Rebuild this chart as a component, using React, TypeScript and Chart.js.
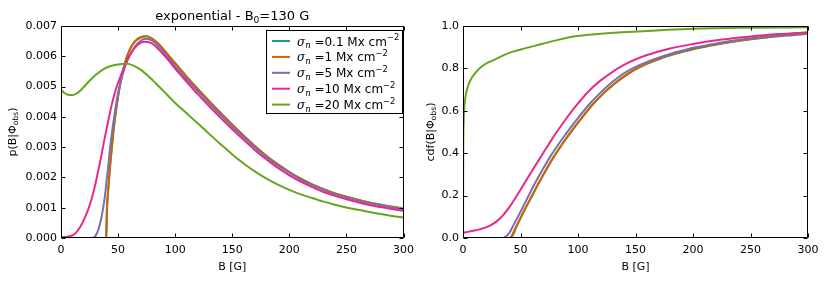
import React, { useEffect, useRef } from "react";
import { Chart, registerables } from "chart.js";
Chart.register(...registerables);

const FONT = '"DejaVu Sans", sans-serif';

const SIGMA_LABELS = ["0.1", "1", "5", "10", "20"];
const COLORS = ["#1b9e77", "#d95f02", "#7570b3", "#e7298a", "#66a61e"];

const X_TICKS = [0, 50, 100, 150, 200, 250, 300];
const PDF_TICKS = [0, 0.001, 0.002, 0.003, 0.004, 0.005, 0.006, 0.007];
const CDF_TICKS = [0, 0.2, 0.4, 0.6, 0.8, 1.0];

// ---- p(B|Phi_obs), values in units of 1e-3 ----
const TAIL_B = [110, 120, 130, 140, 150, 160, 170, 180, 190, 200, 210, 220, 230, 240, 250, 260, 270, 280, 290, 300];

const PDF_B_01 = [0, 39.9, 40.3, 41, 42, 43, 45, 47, 50, 53, 56, 60, 65, 70, 75, 80, 85, 90, 95, 100, ...TAIL_B];
const PDF_01 = [0, 0, 0.9, 1.4, 1.9, 2.35, 3.15, 3.85, 4.68, 5.3, 5.78, 6.2, 6.5, 6.63, 6.66, 6.58, 6.42, 6.22, 5.99, 5.77,
  5.33, 4.91, 4.51, 4.12, 3.74, 3.38, 3.03, 2.71, 2.43, 2.18, 1.96, 1.77, 1.61, 1.47, 1.36, 1.26, 1.17, 1.1, 1.03, 0.97];

const PDF_B_1 = [0, 39.3, 40, 41, 42, 43, 45, 47, 50, 53, 56, 60, 65, 70, 75, 80, 85, 90, 95, 100, ...TAIL_B];
const PDF_1 = [0, 0, 0.8, 1.45, 1.9, 2.4, 3.2, 3.9, 4.68, 5.3, 5.78, 6.2, 6.5, 6.63, 6.66, 6.58, 6.42, 6.22, 5.99, 5.77,
  5.33, 4.91, 4.51, 4.12, 3.74, 3.38, 3.03, 2.71, 2.43, 2.18, 1.96, 1.77, 1.61, 1.47, 1.36, 1.26, 1.17, 1.1, 1.03, 0.97];

const PDF_B_5 = [0, 27, 30, 32.5, 35, 38, 41, 44, 47, 50, 54, 58, 62, 66, 70, 74, 80, 85, 90, 95, 100, ...TAIL_B];
const PDF_5 = [0, 0, 0.06, 0.25, 0.6, 1.25, 2.25, 3.3, 4.1, 4.8, 5.4, 5.85, 6.15, 6.38, 6.52, 6.58, 6.52, 6.35, 6.13, 5.91, 5.67,
  5.25, 4.84, 4.44, 4.06, 3.68, 3.33, 2.98, 2.67, 2.39, 2.15, 1.93, 1.74, 1.59, 1.45, 1.34, 1.24, 1.15, 1.08, 1.01, 0.955];

const PDF_B_10 = [0, 5, 10, 13, 17, 21, 25, 29, 32.5, 35, 38, 41, 44, 48, 53, 58, 64, 70, 74, 80, 85, 90, 95, 100, ...TAIL_B];
const PDF_10 = [0.03, 0.04, 0.09, 0.17, 0.38, 0.68, 1.07, 1.6, 2.2, 2.65, 3.25, 3.8, 4.33, 4.9, 5.42, 5.87, 6.25, 6.45, 6.48, 6.42, 6.25, 6.05, 5.83, 5.59,
  5.16, 4.74, 4.34, 3.96, 3.59, 3.24, 2.9, 2.59, 2.31, 2.07, 1.86, 1.68, 1.52, 1.39, 1.28, 1.18, 1.09, 1.02, 0.955, 0.897];

const PDF_B_20 = [0, 3, 6, 10, 14, 18, 24, 30, 35, 40, 47, 53, 58, 63, 70, 80, 90, 100, ...TAIL_B];
const PDF_20 = [4.9, 4.79, 4.73, 4.72, 4.78, 4.91, 5.15, 5.37, 5.52, 5.63, 5.71, 5.745, 5.75, 5.7, 5.55, 5.22, 4.84, 4.46,
  4.12, 3.78, 3.43, 3.09, 2.76, 2.46, 2.19, 1.96, 1.76, 1.59, 1.44, 1.32, 1.2, 1.1, 1.01, 0.93, 0.86, 0.79, 0.73, 0.68];

// ---- cdf(B|Phi_obs) ----
const CDF_B_01 = [0, 40.6, 42.5, 44.5, 47, 50, 54, 60, 66, 72, 78, 84, 90, 96, 103, 113, 123, 133, 143, 152, 162, 172, 182, 192, 202, 222, 242, 262, 282, 300];
const CDF_01 = [0, 0, 0.006, 0.027, 0.06, 0.093, 0.136, 0.198, 0.26, 0.318, 0.374, 0.424, 0.471, 0.515, 0.564, 0.63, 0.686, 0.733, 0.772, 0.801, 0.826, 0.847, 0.864, 0.879, 0.893, 0.914, 0.931, 0.944, 0.955, 0.963];

const CDF_B_1 = [0, 40, 42, 44, 47, 50, 54, 60, 66, 72, 78, 84, 90, 96, 103, 113, 123, 133, 143, 152, 162, 172, 182, 192, 202, 222, 242, 262, 282, 300];
const CDF_1 = [0, 0, 0.007, 0.028, 0.062, 0.095, 0.138, 0.2, 0.262, 0.32, 0.376, 0.426, 0.473, 0.517, 0.566, 0.632, 0.688, 0.735, 0.774, 0.803, 0.828, 0.849, 0.866, 0.881, 0.895, 0.916, 0.933, 0.946, 0.957, 0.965];

const CDF_B_5 = [0, 34, 36, 40, 44, 48, 52, 58, 64, 70, 76, 82, 88, 94, 100, 110, 120, 130, 140, 150, 160, 170, 180, 190, 200, 220, 240, 260, 280, 300];
const CDF_5 = [0, 0, 0.003, 0.022, 0.062, 0.103, 0.145, 0.21, 0.272, 0.33, 0.385, 0.434, 0.48, 0.524, 0.566, 0.632, 0.688, 0.737, 0.777, 0.807, 0.831, 0.851, 0.868, 0.883, 0.897, 0.918, 0.935, 0.948, 0.959, 0.967];

const CDF_B_10 = [0, 5, 10, 15, 20, 25, 30, 35, 40, 45, 50, 55, 60, 65, 70, 75, 80, 90, 100, 113, 125, 142, 160, 180, 200, 225, 250, 275, 300];
const CDF_10 = [0.025, 0.03, 0.035, 0.042, 0.05, 0.063, 0.082, 0.108, 0.143, 0.184, 0.228, 0.272, 0.316, 0.36, 0.403, 0.446, 0.488, 0.565, 0.635, 0.712, 0.765, 0.822, 0.863, 0.894, 0.915, 0.936, 0.951, 0.962, 0.97];

const CDF_B_20 = [0, 0.2, 0.6, 1.2, 2, 3, 4.6, 7, 10.4, 16, 22, 28, 39, 51, 65, 80, 96, 120, 148, 200, 250, 300];
const CDF_20 = [0, 0.4, 0.55, 0.62, 0.66, 0.69, 0.72, 0.75, 0.777, 0.808, 0.828, 0.843, 0.871, 0.89, 0.91, 0.931, 0.95, 0.963, 0.973, 0.987, 0.992, 0.994];

const PDF_SCALE = 1e-3;

const PDF_SERIES = [
  [PDF_B_01, PDF_01],
  [PDF_B_1, PDF_1],
  [PDF_B_5, PDF_5],
  [PDF_B_10, PDF_10],
  [PDF_B_20, PDF_20],
];
const CDF_SERIES = [
  [CDF_B_01, CDF_01],
  [CDF_B_1, CDF_1],
  [CDF_B_5, CDF_5],
  [CDF_B_10, CDF_10],
  [CDF_B_20, CDF_20],
];

type Part = { t: string; s?: "sub" | "sup"; it?: boolean; serif?: boolean };

function fontOf(p: Part, size: number) {
  const sz = p.s ? size * 0.7 : size;
  return `${p.it ? "italic " : ""}${sz}px ${p.serif ? '"DejaVu Serif", serif' : FONT}`;
}

function drawRich(ctx: CanvasRenderingContext2D, parts: Part[], x: number, y: number, size: number, align: "left" | "center") {
  ctx.save();
  ctx.textBaseline = "alphabetic";
  ctx.textAlign = "left";
  ctx.fillStyle = "#000";
  let w = 0;
  const widths = parts.map((p) => {
    ctx.font = fontOf(p, size);
    const m = ctx.measureText(p.t).width;
    w += m;
    return m;
  });
  let cx = align === "center" ? x - w / 2 : x;
  parts.forEach((p, i) => {
    ctx.font = fontOf(p, size);
    const dy = p.s === "sub" ? size * 0.22 : p.s === "sup" ? -size * 0.42 : 0;
    ctx.fillText(p.t, cx, y + dy);
    cx += widths[i];
  });
  ctx.restore();
}

function drawFrame(chart: any) {
  const { ctx, chartArea: a, scales } = chart;
  ctx.save();
  ctx.strokeStyle = "#000";
  ctx.lineWidth = 1;
  const L = Math.round(a.left) + 0.5;
  const R = Math.round(a.right) - 0.5;
  const T = Math.round(a.top) + 0.5;
  const B = Math.round(a.bottom) - 0.5;
  ctx.beginPath();
  ctx.rect(L, T, R - L, B - T);
  const tl = 4;
  scales.x.ticks.forEach((t: any) => {
    const px = Math.round(scales.x.getPixelForValue(t.value)) + 0.5;
    ctx.moveTo(px, B);
    ctx.lineTo(px, B - tl);
    ctx.moveTo(px, T);
    ctx.lineTo(px, T + tl);
  });
  scales.y.ticks.forEach((t: any) => {
    const py = Math.round(scales.y.getPixelForValue(t.value)) + 0.5;
    ctx.moveTo(L, py);
    ctx.lineTo(L + tl, py);
    ctx.moveTo(R, py);
    ctx.lineTo(R - tl, py);
  });
  ctx.stroke();
  ctx.restore();
}

function makePlugin(extra: (chart: any) => void) {
  return {
    id: "frameAndText",
    afterDatasetsDraw(chart: any) {
      drawFrame(chart);
      extra(chart);
    },
  };
}

function yLabel(ctx: CanvasRenderingContext2D, head: string, cx: number, cy: number) {
  ctx.save();
  ctx.translate(cx, cy);
  ctx.rotate(-Math.PI / 2);
  drawRich(ctx, [{ t: head + "(B|Φ" }, { t: "obs", s: "sub" }, { t: ")" }], 0, 0, 11, "center");
  ctx.restore();
}

function buildDatasets(series: number[][][], scale: number) {
  return series.map(([xs, ys], i) => ({
    label: SIGMA_LABELS[i],
    data: xs.map((x, j) => ({ x, y: ys[j] * scale })),
    borderColor: COLORS[i],
    backgroundColor: COLORS[i],
    borderWidth: 2,
    pointRadius: 0,
    fill: false,
    cubicInterpolationMode: "monotone" as const,
    order: series.length - i,
  }));
}

function buildOptions(yTicks: number[], digits: number, yWidth: number, padRight: number) {
  return {
    animation: false as const,
    responsive: false,
    maintainAspectRatio: false,
    layout: { padding: { left: 0, top: 26, right: padRight, bottom: 0 } },
    plugins: { legend: { display: false }, tooltip: { enabled: false }, title: { display: false } },
    events: [],
    scales: {
      x: {
        type: "linear" as const,
        min: X_TICKS[0],
        max: X_TICKS[X_TICKS.length - 1],
        grid: { display: false, drawTicks: false },
        border: { display: false },
        afterBuildTicks: (s: any) => {
          s.ticks = X_TICKS.map((v) => ({ value: v }));
        },
        afterFit: (s: any) => {
          s.height = 45;
        },
        ticks: {
          color: "#000",
          font: { family: FONT, size: 11 },
          padding: 6,
          maxRotation: 0,
          autoSkip: false,
          callback: (v: any) => String(v),
        },
      },
      y: {
        type: "linear" as const,
        min: yTicks[0],
        max: yTicks[yTicks.length - 1],
        grid: { display: false, drawTicks: false },
        border: { display: false },
        afterBuildTicks: (s: any) => {
          s.ticks = yTicks.map((v) => ({ value: v }));
        },
        afterFit: (s: any) => {
          s.width = yWidth;
        },
        ticks: {
          color: "#000",
          font: { family: FONT, size: 11 },
          padding: 4,
          autoSkip: false,
          callback: (v: any) => Number(v).toFixed(digits),
        },
      },
    },
  };
}

export default function App() {
  const leftRef = useRef<HTMLCanvasElement>(null);
  const rightRef = useRef<HTMLCanvasElement>(null);

  useEffect(() => {
    const left = new Chart(leftRef.current!, {
      type: "line",
      data: { datasets: buildDatasets(PDF_SERIES, PDF_SCALE) as any },
      options: buildOptions(PDF_TICKS, 3, 61, 14) as any,
      plugins: [
        makePlugin((chart: any) => {
          const ctx: CanvasRenderingContext2D = chart.ctx;
          const a = chart.chartArea;
          const cx = (a.left + a.right) / 2;
          drawRich(ctx, [{ t: "exponential - B" }, { t: "0", s: "sub" }, { t: "=130 G" }], cx, 20, 13, "center");
          drawRich(ctx, [{ t: "B [G]" }], cx, 270, 11, "center");
          yLabel(ctx, "p", 16, (a.top + a.bottom) / 2);
          ctx.save();
          const lx = 266.5, ly = 30.5, lw = 136, lh = 83;
          ctx.fillStyle = "#fff";
          ctx.fillRect(lx, ly, lw, lh);
          ctx.strokeStyle = "#000";
          ctx.lineWidth = 1;
          ctx.strokeRect(lx, ly, lw, lh);
          SIGMA_LABELS.forEach((lab, i) => {
            const y = 41 + i * 15.9;
            ctx.strokeStyle = COLORS[i];
            ctx.lineWidth = 2;
            ctx.beginPath();
            ctx.moveTo(272, y);
            ctx.lineTo(290, y);
            ctx.stroke();
            drawRich(
              ctx,
              [
                { t: "σ", it: true, serif: true },
                { t: "n", s: "sub", it: true, serif: true },
                { t: " =" + lab + " Mx cm" },
                { t: "−2", s: "sup" },
              ],
              297,
              y + 4.5,
              12,
              "left"
            );
          });
          ctx.restore();
        }),
      ],
    });
    const right = new Chart(rightRef.current!, {
      type: "line",
      data: { datasets: buildDatasets(CDF_SERIES, 1) as any },
      options: buildOptions(CDF_TICKS, 1, 43, 22) as any,
      plugins: [
        makePlugin((chart: any) => {
          const ctx: CanvasRenderingContext2D = chart.ctx;
          const a = chart.chartArea;
          const cx = (a.left + a.right) / 2;
          drawRich(ctx, [{ t: "B [G]" }], cx, 270, 11, "center");
          yLabel(ctx, "cdf", 14, (a.top + a.bottom) / 2);
        }),
      ],
    });
    return () => {
      left.destroy();
      right.destroy();
    };
  }, []);

  return (
    <div style={{ position: "fixed", left: 0, top: 0, width: 830, height: 283, background: "#fff" }}>
      <canvas ref={leftRef} width={420} height={283} style={{ position: "absolute", left: 0, top: 0, width: 420, height: 283 }} />
      <canvas ref={rightRef} width={410} height={283} style={{ position: "absolute", left: 420, top: 0, width: 410, height: 283 }} />
    </div>
  );
}
